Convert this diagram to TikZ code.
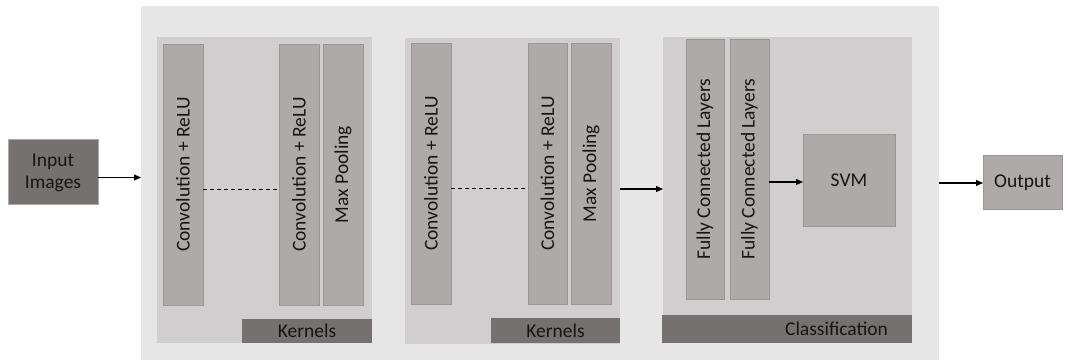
\documentclass[tikz,border=0pt]{standalone}
\usepackage{fontspec}
\setmainfont{Carlito}
\usetikzlibrary{arrows.meta}
\definecolor{bgtwo}{HTML}{E7E6E6}
\definecolor{panelc}{HTML}{D0CECE}
\definecolor{colc}{HTML}{AEAAAA}
\definecolor{colborder}{HTML}{9A9696}
\definecolor{darkc}{HTML}{767171}
\definecolor{txtc}{HTML}{151515}
\tikzset{
  x=1pt, y=-1pt,
  every node/.style={font=\fontsize{19.5}{22}\selectfont, text=txtc, inner sep=0pt, outer sep=0pt},
  outerbox/.style={fill=bgtwo, draw=none, rectangle},
  panel/.style={fill=panelc, draw=none, rectangle},
  layer/.style={fill=colc, draw=colborder, line width=0.8pt, rectangle},
  darkbar/.style={fill=darkc, draw=none, rectangle},
  inbox/.style={fill=darkc, draw=colc, line width=1pt, rectangle, align=center},
  outbox/.style={fill=colc, draw=colborder, line width=1pt, rectangle},
  vtext/.style={rotate=90},
  arr/.style={-{Triangle[length=7pt,width=6pt]}, line width=1.1pt, draw=black},
  dashline/.style={dashed, dash pattern=on 4pt off 3pt, line width=0.8pt, draw=black}
}
\begin{document}
\begin{tikzpicture}
\fill[white] (0,0) rectangle (1067,363);
\useasboundingbox (0,0) rectangle (1067,363);

% outer container
\node[outerbox, minimum width=798pt, minimum height=354pt] (outer) at (540,183) {};

% input / output
\node[inbox, minimum width=90pt, minimum height=65pt] (input) at (53,172.5) {Input\\Images};
\node[outbox, minimum width=79pt, minimum height=54pt] (output) at (1022.5,183) {Output};

% block 1
\node[panel, minimum width=215pt, minimum height=306pt] (p1) at (264.5,190) {};
\node[layer, minimum width=40pt, minimum height=261pt] (c1a) at (183,174.5) {};
\node[vtext] at (c1a.center) {Convolution + ReLU};
\node[layer, minimum width=40pt, minimum height=261pt] (c1b) at (299,174.5) {};
\node[vtext] at (c1b.center) {Convolution + ReLU};
\node[layer, minimum width=40pt, minimum height=261pt] (m1) at (343,174.5) {};
\node[vtext] at (m1.center) {Max Pooling};
\node[darkbar, minimum width=130pt, minimum height=24pt] (k1) at (307,331) {Kernels};
\draw[dashline] ([yshift=-14.5pt]c1a.east) -- ([yshift=-14.5pt]c1b.west);

% block 2
\node[panel, minimum width=215pt, minimum height=306pt] (p2) at (512.5,191) {};
\node[layer, minimum width=40pt, minimum height=261pt] (c2a) at (431,173.5) {};
\node[vtext] at (c2a.center) {Convolution + ReLU};
\node[layer, minimum width=39pt, minimum height=261pt] (c2b) at (547.5,173.5) {};
\node[vtext] at (c2b.center) {Convolution + ReLU};
\node[layer, minimum width=40pt, minimum height=261pt] (m2) at (591,173.5) {};
\node[vtext] at (m2.center) {Max Pooling};
\node[darkbar, minimum width=129pt, minimum height=25pt] (k2) at (555.5,330.5) {Kernels};
\draw[dashline] ([yshift=-14.5pt]c2a.east) -- ([yshift=-14.5pt]c2b.west);

% block 3
\node[panel, minimum width=249pt, minimum height=306pt] (p3) at (787.5,190) {};
\node[darkbar, minimum width=250pt, minimum height=28pt] (cls) at (787,329) {};
\node[anchor=east] (clst) at ([xshift=-24pt]cls.east) {Classification};
\node[layer, minimum width=38pt, minimum height=260pt] (fc1) at (705,169) {};
\node[vtext] at (fc1.center) {Fully Connected Layers};
\node[layer, minimum width=39pt, minimum height=260pt] (fc2) at (749.5,169) {};
\node[vtext] at (fc2.center) {Fully Connected Layers};
\node[layer, minimum width=92pt, minimum height=92pt] (svm) at (849,180) {SVM};

% arrows
\draw[arr] ([yshift=-5pt]input.east) -- ([yshift=-5pt]input.east -| outer.west);
\draw[arr] ([yshift=2pt]p2.east) -- ([yshift=2pt]p2.east -| p3.west);
\draw[arr] ([yshift=-2pt]svm.west -| fc2.east) -- ([yshift=-2pt]svm.west);
\draw[arr] (outer.east) -- (output.west);
\end{tikzpicture}
\end{document}
